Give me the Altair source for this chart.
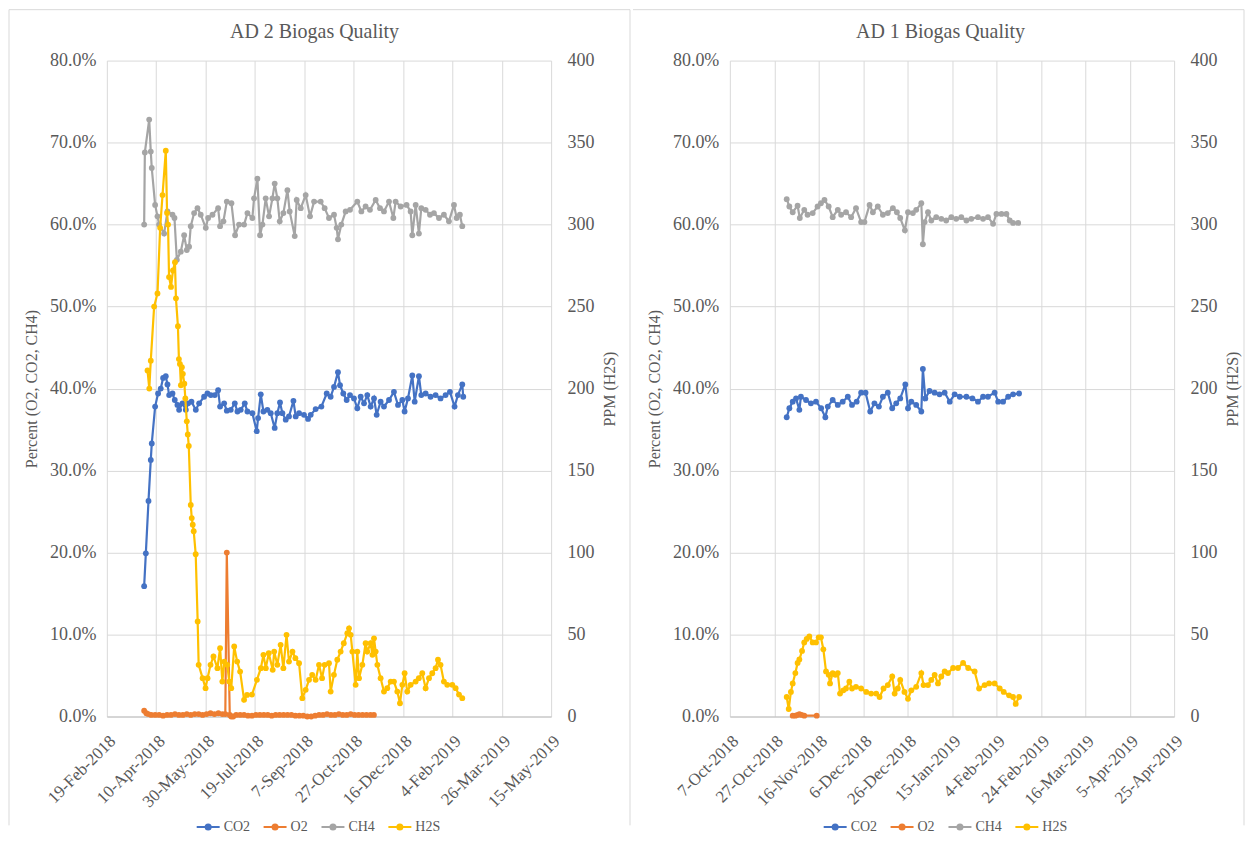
import altair as alt
import pandas as pd

SERIES = ["CO2", "O2", "CH4", "H2S"]
COLORS = ["#4472C4", "#ED7D31", "#A5A5A5", "#FFC000"]
TEXT = "#595959"
GRID = "#D9D9D9"
FONT = "Liberation Serif"

PCT_TICKS = [0.0, 0.1, 0.2, 0.3, 0.4, 0.5, 0.6, 0.7, 0.8]
PPM_TICKS = [0, 50, 100, 150, 200, 250, 300, 350, 400]
LEGEND_PATH = "M-1,0H1M-0.22,0A0.22,0.22,0,1,1,0.22,0A0.22,0.22,0,1,1,-0.22,0Z"

# ---------------- AD 2 ----------------
AD2_TITLE = "AD 2 Biogas Quality"
AD2_START = "2018-02-19"
AD2_X_TICKS = ["2018-02-19", "2018-04-10", "2018-05-30", "2018-07-19", "2018-09-07",
               "2018-10-27", "2018-12-16", "2019-02-04", "2019-03-26", "2019-05-15"]

AD2_CO2_DAY = [37.8, 39.5, 42.2, 44.5, 45.5, 48.9, 51.9, 54.6, 57.0, 59.7, 61.4, 63.1, 66.5, 68.8,
               71.5, 73.2, 76.6, 80.0, 82.3, 85.7, 90.1, 93.5, 98.5, 101.9, 105.3, 109.3, 112.7,
               114.7, 118.8, 121.5, 125.5, 129.6, 132.3, 135.6, 139.7, 142.4, 147.4, 151.8, 153.2,
               155.9, 158.6, 162.6, 166.0, 170.0, 172.7, 175.4, 177.8, 181.2, 184.5, 189.0, 191.3,
               194.7, 199.7, 203.8, 206.5, 211.5, 217.3, 222.7, 226.7, 230.1, 234.1, 236.2, 239.5,
               242.9, 246.3, 250.3, 253.7, 257.1, 260.5, 263.8, 267.2, 270.6, 273.3, 277.3, 280.7,
               285.8, 290.8, 294.9, 299.3, 301.6, 305.0, 309.4, 311.8, 316.1, 318.5, 322.9, 327.9,
               333.0, 338.0, 343.1, 347.5, 352.2, 355.6, 360.0, 361.0]
AD2_CO2 = [15.9, 19.9, 26.3, 31.3, 33.3, 37.8, 39.4, 40.0, 41.3, 41.5, 40.5, 39.2, 39.4, 38.6,
           38.0, 37.4, 38.2, 37.4, 38.2, 38.4, 37.4, 38.2, 39.0, 39.4, 39.2, 39.2, 39.8,
           37.8, 38.2, 37.3, 37.4, 38.2, 37.2, 37.4, 38.2, 37.2, 37.0, 34.8, 36.4,
           39.3, 37.2, 37.4, 37.0, 35.2, 37.0, 38.3, 37.0, 36.2, 36.6, 38.5, 36.6,
           37.0, 36.8, 36.3, 36.8, 37.5, 37.8, 39.4, 39.0, 40.2, 42.0, 40.4, 39.4,
           38.6, 39.2, 38.8, 37.6, 39.0, 38.2, 39.2, 37.8, 38.8, 36.8, 38.4, 37.8,
           38.6, 39.6, 38.0, 38.6, 37.2, 38.8, 41.6, 38.4, 41.5, 39.2, 39.4, 39.0,
           39.2, 38.8, 39.2, 39.6, 37.8, 39.2, 40.5, 39.0]

AD2_O2_DAY = [37.8, 40, 42, 45, 49, 53, 57, 61, 65, 69, 73, 77, 81, 85, 89, 93, 97, 101, 105,
              109, 113, 117, 120, 121.5, 124.5, 126, 128, 131, 135, 139, 143, 147, 151, 155,
              159, 163, 167, 171, 175, 179, 183, 187, 191, 195, 199, 203, 207, 211, 215, 219,
              223, 227, 231, 235, 239, 243, 247, 251, 255, 259, 263, 267, 270.5]
AD2_O2 = [0.7, 0.4, 0.3, 0.2, 0.2, 0.2, 0.1, 0.2, 0.2, 0.3, 0.2, 0.2, 0.3, 0.2, 0.3, 0.3, 0.2, 0.3,
          0.4, 0.3, 0.4, 0.3, 0.3, 20.0, 0.2, 0.0, 0.0, 0.2, 0.2, 0.2, 0.1, 0.1, 0.2, 0.2,
          0.2, 0.2, 0.1, 0.2, 0.2, 0.2, 0.2, 0.2, 0.1, 0.1, 0.1, 0.0, 0.0, 0.1, 0.2, 0.2,
          0.3, 0.2, 0.2, 0.3, 0.2, 0.2, 0.3, 0.2, 0.2, 0.2, 0.2, 0.2, 0.2]

AD2_CH4_DAY = [37.8, 38.5, 42.9, 44.5, 45.5, 48.9, 51.3, 53.0, 58.0, 61.4, 66.5, 68.5, 70.9, 74.9,
               78.3, 81.0, 83.3, 85.0, 88.4, 91.8, 95.1, 100.2, 102.6, 107.0, 112.7, 114.7, 118.1,
               121.5, 126.2, 129.9, 133.9, 139.0, 142.4, 147.4, 149.1, 152.5, 155.2, 157.6, 160.9,
               164.3, 167.7, 170.0, 172.7, 175.1, 178.8, 182.9, 185.2, 190.3, 192.3, 196.4, 201.4,
               205.8, 209.9, 216.6, 220.6, 225.0, 230.1, 232.8, 234.1, 237.5, 241.9, 246.3, 253.7,
               257.8, 262.1, 266.5, 272.3, 276.7, 280.7, 285.8, 290.2, 292.5, 297.6, 303.6, 307.7,
               309.4, 312.8, 316.1, 318.5, 322.9, 327.3, 331.3, 336.4, 341.4, 346.5, 351.6, 354.3,
               357.6, 360.0]
AD2_CH4 = [60.0, 68.8, 72.8, 68.9, 66.9, 62.4, 61.0, 60.0, 58.9, 61.6, 61.2, 60.8, 55.7, 56.7,
           58.7, 56.9, 57.3, 59.8, 61.4, 62.0, 61.2, 59.6, 60.8, 61.2, 62.0, 59.8, 60.4,
           62.8, 62.6, 58.7, 60.0, 60.0, 61.4, 60.8, 63.2, 65.6, 58.7, 60.0, 63.2,
           61.0, 63.2, 65.0, 63.2, 60.4, 61.4, 64.2, 61.6, 58.6, 63.0, 62.0, 63.6,
           61.0, 62.8, 62.8, 62.0, 60.8, 61.2, 59.6, 58.2, 60.0, 61.6, 61.8, 62.8,
           61.6, 62.2, 61.8, 63.0, 62.0, 61.6, 62.8, 60.8, 62.8, 62.2, 62.4, 61.6,
           58.7, 62.4, 58.9, 62.0, 61.8, 61.2, 61.4, 60.8, 61.2, 60.4, 62.4, 60.8,
           61.2, 59.8]

AD2_H2S_DAY = [41.2, 43.0, 44.5, 47.9, 51.3, 54.0, 56.4, 59.7, 61.0, 62.0, 63.0, 65.0, 67.0, 69.0,
               70.0, 72.0, 73.0, 74.0, 75.0, 76.0, 77.0, 78.5, 79.5, 81.0, 82.0, 83.0, 85.0, 86.0,
               87.0, 88.0, 90.0, 92.0, 93.0, 97.0, 100.0, 102.0, 105.0, 108.0, 112.0, 114.7, 117.0,
               119.0, 122.0, 124.0, 126.0, 129.0, 132.0, 135.0, 139.0, 142.0, 147.0, 152.0, 156.0,
               158.6, 161.0, 164.0, 168.0, 169.5, 172.7, 176.0, 178.8, 182.0, 184.5, 188.0, 191.0,
               194.7, 198.0, 201.4, 204.8, 208.0, 211.5, 214.9, 218.0, 220.6, 225.0, 226.7, 230.0,
               233.4, 236.8, 240.0, 243.6, 245.3, 247.0, 248.7, 252.0, 253.7, 255.4, 258.8, 262.1,
               263.8, 267.2, 269.0, 270.6, 272.3, 274.0, 277.3, 280.7, 284.0, 287.5, 290.8, 294.2,
               296.9, 299.3, 301.6, 304.3, 307.7, 312.8, 316.0, 319.5, 322.9, 326.3, 329.6, 333.0,
               335.4, 338.0, 341.4, 344.8, 349.9, 353.3, 356.7, 360.0]
AD2_H2S = [211, 200, 217, 250, 258, 298, 318, 345, 307, 300, 268, 262, 272, 277,
           255, 238, 218, 215, 202, 213, 209, 203, 194, 180, 172, 165, 129, 121,
           117, 113, 99, 58, 31.5, 23.4, 17.3, 23.4, 31.5, 36.6, 29.5, 41.7, 21.3,
           33.5, 31.5, 21.3, 17.3, 42.7, 33.5, 27.4, 10.2, 13.2, 13.4, 22.4, 29.5,
           37.6, 29.5, 38.6, 28.5, 39.6, 31.5, 43.7, 29.5, 49.8, 33.5, 39.6, 35.6,
           32.5, 11.2, 16.3, 22.4, 25.4, 22.4, 31.5, 23.4, 31.5, 32.5, 15.2, 25.4,
           34.6, 39.6, 44.7, 50.8, 53.8, 49.8, 39.6, 19.3, 39.6, 23.4, 31.5, 44.7,
           39.6, 44.7, 37.6, 47.7, 39.6, 31.5, 23.4, 15.2, 17.3, 21.3, 21.3, 15.2,
           8.1, 19.3, 26.4, 15.2, 19.3, 21.3, 23.4, 26.4, 17.3, 23.4, 26.4, 29.5,
           34.6, 31.5, 21.3, 19.3, 19.3, 17.3, 13.4, 11.2]

# ---------------- AD 1 ----------------
AD1_TITLE = "AD 1 Biogas Quality"
AD1_START = "2018-10-07"
AD1_X_TICKS = ["2018-10-07", "2018-10-27", "2018-11-16", "2018-12-06", "2018-12-26", "2019-01-15",
               "2019-02-04", "2019-02-24", "2019-03-16", "2019-04-05", "2019-04-25"]

AD1_CO2_DAY = [25.6, 26.8, 28.3, 29.8, 31.3, 32.0, 34.3, 36.5, 38.8, 41.1, 43.0, 44.1, 46.3, 48.6,
               50.8, 53.1, 55.0, 57.1, 59.1, 61.1, 63.2, 65.1, 67.1, 68.9, 71.1, 73.1, 74.9, 76.7,
               79.0, 80.2, 81.7, 83.9, 86.2, 86.9, 88.0, 89.9, 92.2, 94.4, 96.7, 99.0, 101.2, 103.5,
               106.5, 109.2, 111.7, 114.0, 116.2, 119.2, 120.8, 123.0, 125.3, 127.5, 130.2]
AD1_CO2 = [36.5, 37.6, 38.4, 38.8, 37.4, 39.0, 38.6, 38.2, 38.4, 37.6, 36.5, 37.8, 38.6, 38.0,
           38.4, 39.0, 38.0, 38.4, 39.5, 39.5, 37.2, 38.2, 37.8, 39.0, 39.5, 37.6, 38.2, 38.8,
           40.5, 37.6, 38.4, 38.0, 37.2, 42.4, 38.8, 39.7, 39.5, 39.3, 39.5, 38.4, 39.3, 39.0,
           39.0, 38.8, 38.4, 39.0, 39.0, 39.5, 38.4, 38.4, 39.0, 39.3, 39.4]

AD1_O2_DAY = [28.3, 29.5, 30.5, 31.3, 32.3, 33.5, 39.1]
AD1_O2 = [0.1, 0.1, 0.2, 0.3, 0.2, 0.1, 0.1]

AD1_CH4_DAY = [25.6, 26.8, 28.3, 30.5, 31.5, 33.5, 35.0, 37.3, 39.5, 41.0, 42.6, 44.5, 46.3, 48.6,
               50.1, 52.3, 54.6, 56.8, 59.1, 60.6, 62.9, 64.4, 66.6, 68.9, 71.1, 73.4, 75.2, 76.7,
               78.8, 80.2, 82.4, 83.9, 86.2, 86.9, 87.7, 89.2, 90.7, 92.9, 95.2, 97.4, 99.7, 101.9,
               104.2, 106.5, 108.7, 111.7, 114.0, 116.2, 118.5, 120.0, 122.3, 124.5, 126.0, 127.5,
               129.8]
AD1_CH4 = [63.1, 62.2, 61.5, 62.3, 60.8, 61.8, 61.2, 61.4, 62.2, 62.6, 63.0, 62.2, 60.9, 61.8,
           61.2, 61.5, 60.9, 62.0, 60.3, 60.3, 62.4, 61.5, 62.2, 61.2, 61.4, 62.0, 61.5, 60.8,
           59.3, 61.5, 61.4, 61.8, 62.6, 57.6, 60.3, 61.5, 60.5, 60.9, 60.7, 60.5, 60.9, 60.7,
           60.9, 60.5, 60.7, 60.9, 60.7, 60.9, 60.1, 61.3, 61.3, 61.3, 60.5, 60.2, 60.2]

AD1_H2S_DAY = [25.6, 26.5, 27.5, 28.3, 29.5, 30.5, 31.3, 32.5, 33.5, 34.6, 35.8, 37.3, 38.8, 40.0,
               41.0, 42.1, 43.3, 44.5, 45.1, 46.3, 47.5, 48.6, 49.6, 51.1, 52.3, 53.8, 55.0, 56.8,
               59.1, 61.4, 63.6, 65.9, 67.4, 69.2, 71.1, 73.1, 74.2, 75.6, 76.7, 78.6, 80.2, 81.7,
               83.9, 86.2, 87.2, 89.2, 90.7, 92.2, 93.7, 95.2, 96.7, 98.2, 100.5, 102.7, 105.0,
               107.3, 110.2, 112.2, 114.7, 116.7, 119.2, 121.5, 123.3, 125.7, 127.5, 128.7, 130.2]
AD1_H2S = [11.9, 4.6, 15.0, 20.2, 26.5, 32.7, 34.8, 40.0, 45.2, 47.3, 48.8, 45.2, 45.2, 48.3,
           48.3, 41.0, 27.5, 25.4, 20.2, 26.5, 25.4, 26.5, 14.0, 16.0, 17.1, 21.2, 17.1, 18.1,
           17.1, 15.0, 14.0, 14.0, 11.9, 17.1, 19.2, 24.4, 14.0, 17.1, 22.3, 15.0, 10.8, 16.0,
           18.1, 26.5, 19.2, 19.2, 22.3, 25.4, 20.2, 24.4, 27.5, 26.5, 29.6, 29.6, 32.7,
           29.6, 27.5, 17.1, 19.2, 20.2, 20.2, 17.1, 15.0, 12.9, 11.9, 7.7, 11.9]


def ms(date):
    return int((pd.Timestamp(date) - pd.Timestamp("1970-01-01")) // pd.Timedelta(milliseconds=1))


def table(start, days, values, name, col, factor=1.0):
    base = ms(start)
    return pd.DataFrame({
        "t": [base + d * 86400000 for d in days],
        "series": name,
        col: [v * factor for v in values],
    })


def panel(title, start, ticks, co2, o2, ch4, h2s, title_x, legend_x, left_x, right_x):
    tick_ms = [ms(t) for t in ticks]
    color_scale = alt.Scale(domain=SERIES, range=COLORS)
    legend = alt.Legend(
        title=None, orient="none", legendX=legend_x, legendY=755, direction="horizontal",
        symbolType=LEGEND_PATH, symbolSize=529, symbolStrokeWidth=2,
        labelFont=FONT, labelFontSize=14, labelColor=TEXT, labelOffset=3, columnPadding=9,
    )
    x = alt.X(
        "t:T", title=None,
        scale=alt.Scale(type="utc", domain=[tick_ms[0], tick_ms[-1]]),
        axis=alt.Axis(values=tick_ms, format="%-d-%b-%Y", labelAngle=315, grid=True,
                      labelOverlap=False, labelFont=FONT, labelFontSize=17,
                      domain=True, domainColor="#BFBFBF", labelPadding=16),
    )
    pct_df = pd.concat([
        table(start, co2[0], co2[1], "CO2", "pct", 0.01),
        table(start, o2[0], o2[1], "O2", "pct", 0.01),
        table(start, ch4[0], ch4[1], "CH4", "pct", 0.01),
    ], ignore_index=True)
    h2s_df = table(start, h2s[0], h2s[1], "H2S", "ppm")

    y_pct = alt.Y("pct:Q", scale=alt.Scale(domain=[0, 0.8]),
                  axis=alt.Axis(values=PCT_TICKS, format=".1%", title="Percent (O2, CO2, CH4)",
                                labelFont=FONT, titleFont=FONT, labelFontSize=18, titleFontSize=16,
                                grid=True, labelPadding=11, titlePadding=10))
    y_ppm = alt.Y("ppm:Q", scale=alt.Scale(domain=[0, 400]),
                  axis=alt.Axis(orient="right", values=PPM_TICKS, format="d", title="PPM (H2S)",
                                labelFont=FONT, titleFont=FONT, labelFontSize=18, titleFontSize=16,
                                grid=False, labelPadding=16, titlePadding=7, titleAngle=270,
                                titleBaseline="top"))

    pct_layer = alt.layer(
        alt.Chart(pct_df).mark_line(strokeWidth=2.2).encode(
            x=x, y=y_pct, stroke=alt.Stroke("series:N", scale=color_scale, legend=legend)),
        alt.Chart(pct_df).mark_circle(size=34, opacity=1).encode(
            x=x, y=y_pct, fill=alt.Fill("series:N", scale=color_scale, legend=legend)),
    )
    h2s_layer = alt.layer(
        alt.Chart(h2s_df).mark_line(strokeWidth=2.2).encode(
            x=x, y=y_ppm, stroke=alt.Stroke("series:N", scale=color_scale, legend=legend)),
        alt.Chart(h2s_df).mark_circle(size=34, opacity=1).encode(
            x=x, y=y_ppm, fill=alt.Fill("series:N", scale=color_scale, legend=legend)),
    )

    one = pd.DataFrame({"title": [title]})
    deco = [
        alt.Chart(one).mark_rule(color=GRID, strokeWidth=1).encode(
            x=alt.value(left_x), x2=alt.value(right_x), y=alt.value(-51), y2=alt.value(-51)),
        alt.Chart(one).mark_rule(color=GRID, strokeWidth=1).encode(
            x=alt.value(right_x), x2=alt.value(right_x), y=alt.value(-51), y2=alt.value(766)),
        alt.Chart(one).mark_text(font=FONT, fontSize=20, color=TEXT).encode(
            text="title:N", x=alt.value(title_x), y=alt.value(-29)),
    ]
    if left_x < -97:
        deco.append(alt.Chart(one).mark_rule(color=GRID, strokeWidth=1).encode(
            x=alt.value(left_x), x2=alt.value(left_x), y=alt.value(-51), y2=alt.value(766)))

    return alt.layer(pct_layer, h2s_layer, *deco).resolve_scale(y="independent").properties(
        width=445, height=657)


left = panel(AD2_TITLE, AD2_START, AD2_X_TICKS,
             (AD2_CO2_DAY, AD2_CO2), (AD2_O2_DAY, AD2_O2), (AD2_CH4_DAY, AD2_CH4),
             (AD2_H2S_DAY, AD2_H2S), title_x=208, legend_x=89, left_x=-98, right_x=524)
right = panel(AD1_TITLE, AD1_START, AD1_X_TICKS,
              (AD1_CO2_DAY, AD1_CO2), (AD1_O2_DAY, AD1_O2), (AD1_CH4_DAY, AD1_CH4),
              (AD1_H2S_DAY, AD1_H2S), title_x=211, legend_x=93, left_x=-97, right_x=515)

chart = alt.hconcat(left, right, spacing=179, bounds="flush").resolve_legend(
    fill="independent", stroke="independent"
).properties(padding=0).configure(font=FONT).configure_view(stroke=None).configure_axis(
    labelFont=FONT, titleFont=FONT, labelColor=TEXT, titleColor=TEXT, titleFontWeight="normal",
    gridColor=GRID, ticks=False, domain=False, labelFontSize=16, titleFontSize=16,
).configure_legend(labelFont=FONT)

chart.save("out.html", embed_options={"renderer": "svg", "actions": False})
